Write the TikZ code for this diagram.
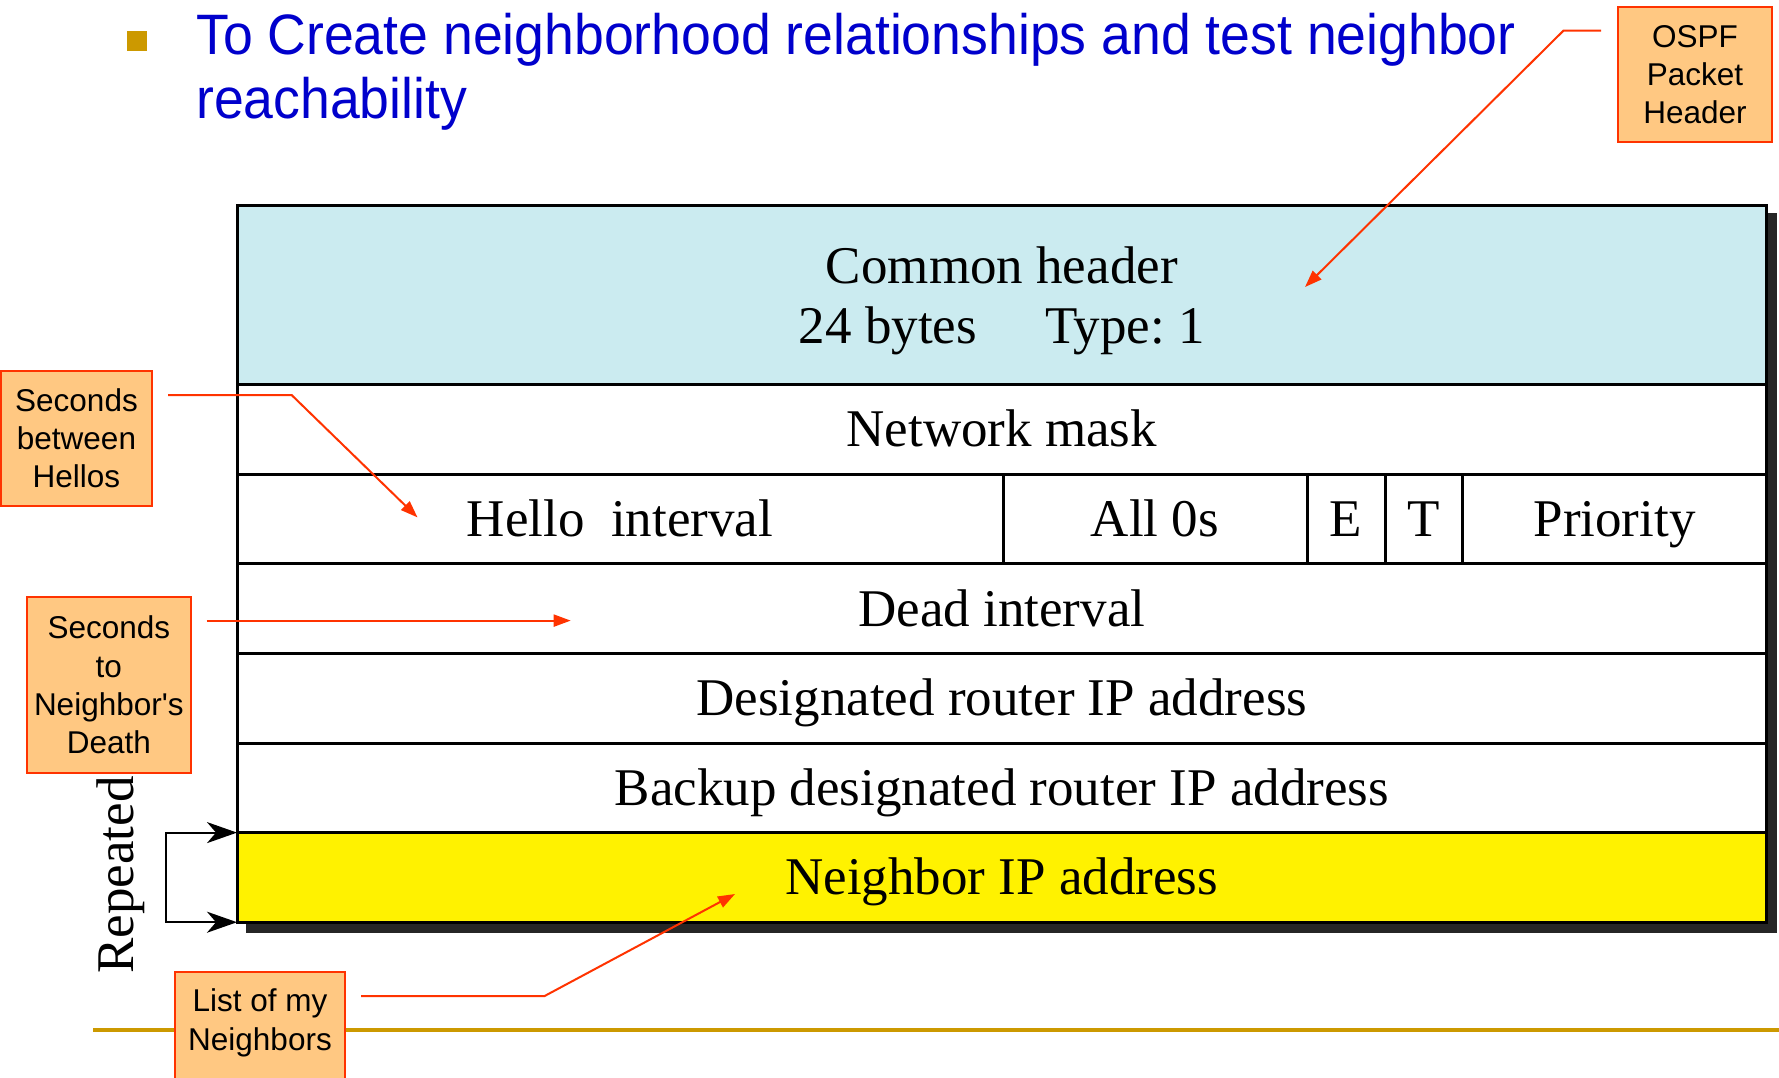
\documentclass[tikz,border=0pt]{standalone}
\usepackage{fontspec}
\setmainfont{Liberation Serif}
\newfontfamily\sansfont{Liberation Sans}
\newfontfamily\titlesans[FakeStretch=0.94]{Liberation Sans}
\usetikzlibrary{arrows.meta}

\definecolor{titleblue}{HTML}{0000CC}
\definecolor{gold}{HTML}{CC9900}
\definecolor{hdrcyan}{HTML}{CBEBF0}
\definecolor{calloutfill}{HTML}{FFC882}
\definecolor{calloutred}{HTML}{FF3300}
\definecolor{shadowgray}{HTML}{262626}

\newcommand\tblfont{\fontsize{53}{60}\selectfont}
\newcommand\calfont{\sansfont\fontsize{31.5}{38.2}\selectfont}
\newcommand\ttlfont{\titlesans\fontsize{57}{64}\selectfont}
\frenchspacing

\begin{document}
\begin{tikzpicture}[x=1pt,y=-1pt,
  row/.style={draw=black, line width=3pt, inner sep=0pt, outer sep=0pt,
    anchor=north west, minimum height=89.6pt, font=\tblfont,
    text height=35pt, text depth=0pt},
  fullrow/.style={row, minimum width=1529.6pt},
  callout/.style={draw=calloutred, fill=calloutfill, line width=2pt,
    inner sep=0pt, outer sep=0pt, align=center, font=\calfont},
  callline/.style={draw=calloutred, line width=2pt,
    -{Triangle[length=17pt,width=12pt]}},
  bracket/.style={draw=black, line width=2.2pt,
    {Stealth[length=30pt,width=21pt,inset=9pt]}-{Stealth[length=30pt,width=21pt,inset=9pt]}}
]
\useasboundingbox (0,0) rectangle (1779,1077);
\fill[white] (0,0) rectangle (1779,1077);

% bullet and title
\node[fill=gold, minimum size=20pt, inner sep=0pt] (bul) at (137,41) {};
\node[anchor=base west, inner sep=0pt, font=\ttlfont, text=titleblue] (t1) at (196,54.5)
  {To Create neighborhood relationships and test neighbor};
\node[anchor=base west, inner sep=0pt, font=\ttlfont, text=titleblue] (t2) at (196,118)
  {reachability};

% drop shadow of the packet
\fill[shadowgray] (246,213) rectangle (1777,933);

% packet rows
\node[fullrow, fill=hdrcyan, minimum height=179.2pt, text height=, text depth=] (hdr) at (237,205.4) {};
\node[font=\tblfont, align=center, inner sep=0pt] (hdrtext) at (1001.8,301)
  {Common header\\24 bytes\hspace{68pt}Type: 1};
\node[fullrow, fill=white] (mask) at (237,384.6) {Network mask};
\node[row, fill=white, minimum width=766pt] (hello) at (237,474.2) {Hello~~interval};
\node[row, fill=white, minimum width=304pt] (zeros) at (1003,474.2) {All 0s};
\node[row, fill=white, minimum width=78pt] (ebit) at (1307,474.2) {E};
\node[row, fill=white, minimum width=77.5pt] (tbit) at (1385,474.2) {T};
\node[row, fill=white, minimum width=304.1pt] (prio) at (1462.5,474.2) {Priority};
\node[fullrow, fill=white] (dead) at (237,563.8) {Dead interval};
\node[fullrow, fill=white] (dr) at (237,653.4) {Designated router IP address};
\node[fullrow, fill=white] (bdr) at (237,743) {Backup designated router IP address};
\node[fullrow, fill=yellow] (nbr) at (237,832.6) {Neighbor IP address};

% repeated field bracket
\coordinate (rx) at (165.6,0);
\draw[bracket] (nbr.north west) -- (nbr.north west -| rx) -- (nbr.south west -| rx) -- (nbr.south west);
\node[rotate=90, font=\tblfont, inner sep=0pt] (rep) at (121,875) {Repeated};

% bottom rule
\coordinate (ruleA) at (93,1030);
\coordinate (ruleB) at (1779,1030);
\draw[gold, line width=3.5pt] (ruleA) -- (ruleB);

% callouts
\node[callout, minimum width=154pt, minimum height=135pt] (ospf) at (1695,74.5) {OSPF\\Packet\\Header};
\node[callout, minimum width=151pt, minimum height=135pt] (hellos) at (76.5,438.5) {Seconds\\between\\Hellos};
\node[callout, minimum width=163.6pt, minimum height=176pt] (death) at (108.8,685) {Seconds\\to\\Neighbor's\\Death};
\node[callout, minimum width=170pt, minimum height=128pt] (list) at (260,1036) {};
\node[font=\calfont, align=center, inner sep=0pt] (listtext) at (260,1022.8) {List of my\\Neighbors};

% callout leaders
\coordinate (o1) at (1601,30.6);
\coordinate (o2) at (1563.5,30.6);
\coordinate (o3) at (1305,287);
\draw[callline] (o1) -- (o2) -- (o3);

\coordinate (h1) at (168,395);
\coordinate (h2) at (291.6,395);
\coordinate (h3) at (417.5,517.4);
\draw[callline] (h1) -- (h2) -- (h3);

\coordinate (d1) at (206.5,620.6);
\coordinate (d2) at (570.7,620.6);
\draw[callline] (d1) -- (d2);

\coordinate (l1) at (361,996);
\coordinate (l2) at (544.6,996);
\coordinate (l3) at (735,894);
\draw[callline] (l1) -- (l2) -- (l3);
\end{tikzpicture}
\end{document}
